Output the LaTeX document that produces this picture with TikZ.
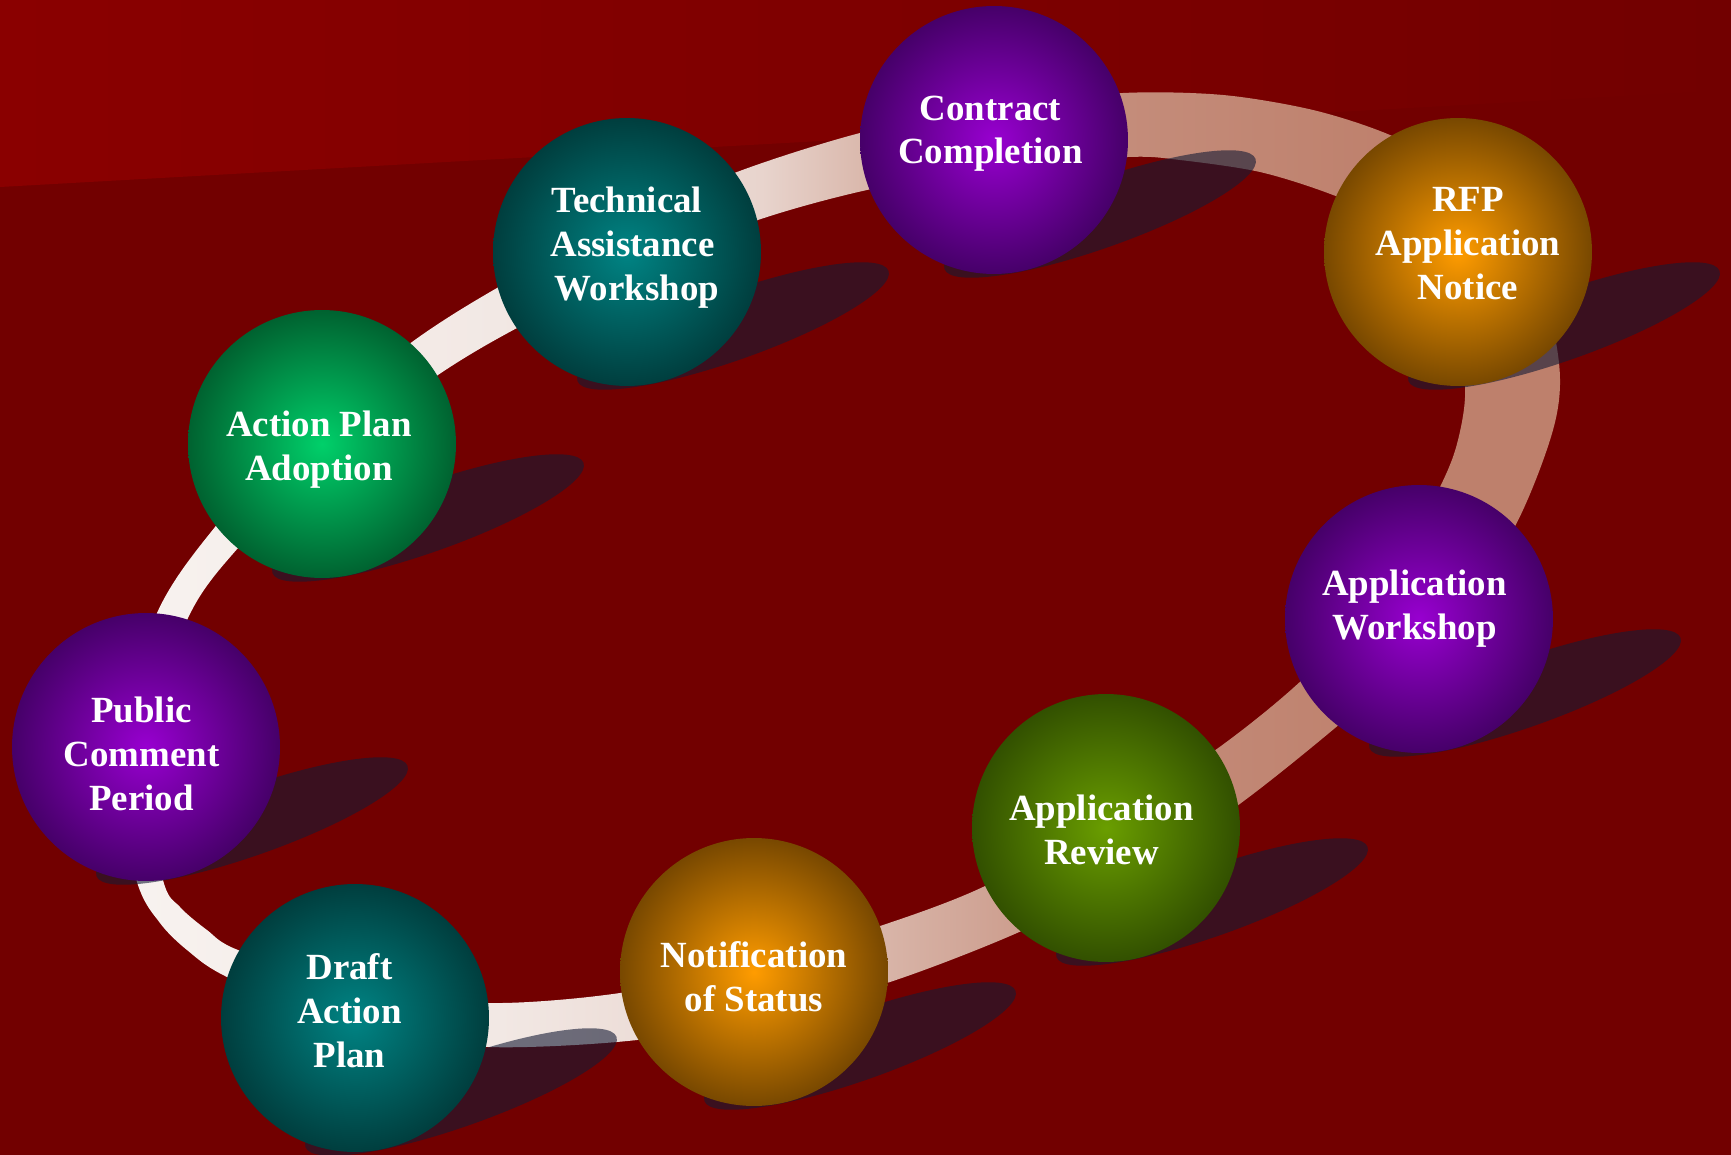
\documentclass[tikz,border=0pt]{standalone}
\usepackage{fontspec}
\setmainfont{Liberation Serif}
\usetikzlibrary{positioning}
\usetikzlibrary{calc}

\definecolor{bgred}{RGB}{114,0,0}
\definecolor{topred}{RGB}{138,0,0}
\definecolor{shadowc}{RGB}{21,27,53}
\definecolor{purpC}{RGB}{152,0,208}
\definecolor{purpE}{RGB}{70,0,105}
\definecolor{tealC}{RGB}{0,132,132}
\definecolor{tealE}{RGB}{0,62,62}
\definecolor{greenC}{RGB}{0,208,106}
\definecolor{greenE}{RGB}{0,98,48}
\definecolor{orangC}{RGB}{255,156,0}
\definecolor{orangE}{RGB}{120,72,0}
\definecolor{oliveC}{RGB}{106,158,0}
\definecolor{oliveE}{RGB}{50,80,0}
\definecolor{bandA}{RGB}{248,243,240}
\definecolor{bandB}{RGB}{242,232,228}
\definecolor{bandC}{RGB}{232,212,205}
\definecolor{bandD}{RGB}{218,184,172}
\definecolor{bandE}{RGB}{196,140,122}
\definecolor{bandF}{RGB}{190,128,108}

\pgfdeclarehorizontalshading{bandshade}{100bp}{color(0bp)=(bandA); color(25bp)=(bandA); color(38.5bp)=(bandB); color(47.5bp)=(bandC); color(51bp)=(bandD); color(60bp)=(bandE); color(69.5bp)=(bandF); color(100bp)=(bandF)}

\pgfdeclarelayer{back}
\pgfsetlayers{back,main}

\tikzset{
	ball/.style 2 args={circle, minimum size=5.36cm, inner sep=0pt, inner color=#1, outer color=#2},
	balltext/.style={text=white, align=center, font=\bfseries\fontsize{21}{25}\selectfont},
	shadowfill/.style={fill=shadowc, fill opacity=0.6},
}

\begin{document}
\begin{tikzpicture}[x=0.02cm, y=-0.02cm]
		\useasboundingbox (0,0) rectangle (1731,1155);
		\node[ball={tealC}{tealE}] (taw) at (627,252) {};
		\node[ball={purpC}{purpE}] (cc) at (994,140) {};
		\node[ball={orangC}{orangE}] (rfp) at (1458,252) {};
		\node[ball={purpC}{purpE}] (aw) at (1419,619) {};
		\node[ball={oliveC}{oliveE}] (ar) at (1106,828) {};
		\node[ball={orangC}{orangE}] (ns) at (754,972) {};
		\node[ball={tealC}{tealE}] (dap) at (355,1018) {};
		\node[ball={purpC}{purpE}] (pcp) at (146,747) {};
		\node[ball={greenC}{greenE}] (apa) at (322,444) {};
		\node[balltext] at ([yshift=0.08cm]taw.center) {Technical\\\hspace*{0.22cm}Assistance\\\hspace*{0.4cm}Workshop};
		\node[balltext] at ([xshift=-0.07cm, yshift=0.125cm]cc.center) {Contract\\Completion};
		\node[balltext] at ([xshift=0.2cm, yshift=0.17cm]rfp.center) {RFP\\Application\\Notice};
		\node[balltext] at ([xshift=-0.09cm, yshift=0.215cm]aw.center) {Application\\Workshop};
		\node[balltext] at ([xshift=-0.09cm, yshift=-0.03cm]ar.center) {Application\\Review};
		\node[balltext] at ([yshift=-0.095cm]ns.center) {Notification\\of Status};
		\node[balltext] at ([xshift=-0.11cm, yshift=0.15cm]dap.center) {Draft\\Action\\Plan};
		\node[balltext] at ([xshift=-0.09cm, yshift=-0.14cm]pcp.center) {Public\\Comment\\Period};
		\node[balltext] at ([xshift=-0.06cm, yshift=-0.115cm]apa.center) {Action Plan\\Adoption};
		\begin{pgfonlayer}{back}
			\clip (0,0) rectangle (1731,1155);
			\fill[bgred] (0,0) rectangle (1731,1155);
			\shade[left color=topred, right color=bgred] (0,0) -- (1731,0) -- (1731,90) -- (0,187) -- cycle;
			\shade[shading=bandshade, even odd rule]
				plot[smooth cycle] coordinates {(215,527) (305,428) (412,342) (497,288) (617,224) (737,172) (860,133) (991,106) (1123,93) (1223,95) (1313,110) (1390,135) (1480,180) (1535,260) (1559,363) (1553,430) (1513,530) (1440,635) (1341,723) (1237,806) (1130,876) (1017,933) (890,982) (764,1016) (637,1040) (488,1047) (350,1030) (227,977) (187,950) (160,923) (137,882) (110,760) (157,613)}
				plot[smooth cycle] coordinates {(238,548) (330,455) (438,375) (517,328) (637,268) (758,220) (867,190) (997,167) (1128,157) (1180,160) (1260,172) (1333,195) (1405,228) (1450,300) (1465,385) (1458,440) (1440,487) (1385,590) (1303,679) (1214,751) (1100,823) (983,887) (883,925) (752,964) (620,993) (488,1003) (355,988) (238,950) (207,930) (180,907) (163,880) (140,757) (188,618)};
			\foreach \n in {taw,cc,rfp,aw,ar,ns,dap,pcp,apa}
				\fill[shadowfill] ($(\n)+(106,74)$) circle [x radius=165, y radius=34, rotate=19.5];
		\end{pgfonlayer}
\end{tikzpicture}
\end{document}
